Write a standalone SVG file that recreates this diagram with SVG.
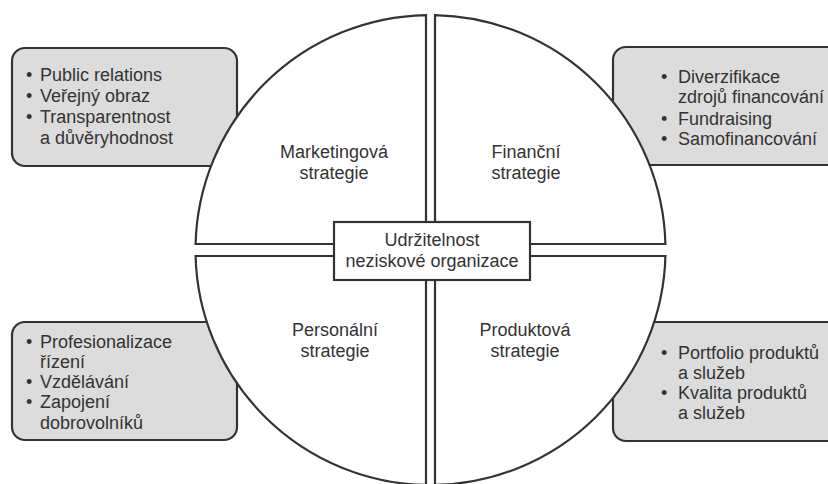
<svg xmlns="http://www.w3.org/2000/svg" width="828" height="484" viewBox="0 0 828 484">
<style>
.box{fill:#dcdcdc;stroke:#333;stroke-width:2.2}
.q{fill:#fff;stroke:#333;stroke-width:2.2}
.t{font-family:"Liberation Sans",Arial,sans-serif;font-size:18px;fill:#333}
.c{text-anchor:middle}
</style>
<rect width="828" height="484" fill="#fff"/>
<g id="box-marketing">
<rect class="box" x="12" y="48" width="225" height="118" rx="13"/>
<text class="t"><tspan x="26" y="81">•</tspan><tspan x="40" y="81">Public relations</tspan><tspan x="26" y="102">•</tspan><tspan x="40" y="102">Veřejný obraz</tspan><tspan x="26" y="123">•</tspan><tspan x="40" y="123">Transparentnost</tspan><tspan x="40" y="144">a důvěryhodnost</tspan></text>
</g>
<g id="box-financni">
<rect class="box" x="613" y="47" width="232" height="118" rx="13"/>
<text class="t"><tspan x="661" y="83">•</tspan><tspan x="678" y="83">Diverzifikace</tspan><tspan x="678" y="103">zdrojů financování</tspan><tspan x="661" y="125">•</tspan><tspan x="678" y="125">Fundraising</tspan><tspan x="661" y="145">•</tspan><tspan x="678" y="145">Samofinancování</tspan></text>
</g>
<g id="box-personalni">
<rect class="box" x="12" y="322" width="225" height="118" rx="13"/>
<text class="t"><tspan x="26" y="348">•</tspan><tspan x="40" y="348">Profesionalizace</tspan><tspan x="40" y="368">řízení</tspan><tspan x="26" y="388">•</tspan><tspan x="40" y="388">Vzdělávání</tspan><tspan x="26" y="408">•</tspan><tspan x="40" y="408">Zapojení</tspan><tspan x="40" y="429">dobrovolníků</tspan></text>
</g>
<g id="box-produktova">
<rect class="box" x="613" y="322" width="232" height="119" rx="13"/>
<text class="t"><tspan x="661" y="359">•</tspan><tspan x="678" y="359">Portfolio produktů</tspan><tspan x="678" y="379">a služeb</tspan><tspan x="661" y="399">•</tspan><tspan x="678" y="399">Kvalita produktů</tspan><tspan x="678" y="419">a služeb</tspan></text>
</g>
<g id="q-marketing">
<path class="q" d="M426,244 L426,15.04 A235,235 0 0 0 195.58,244 Z"/>
<text class="t c" x="334" y="158">Marketingová</text>
<text class="t c" x="334" y="179">strategie</text>
</g>
<g id="q-financni">
<path class="q" d="M435,244 L435,15.04 A235,235 0 0 1 665.42,244 Z"/>
<text class="t c" x="526" y="158">Finanční</text>
<text class="t c" x="526" y="179">strategie</text>
</g>
<g id="q-personalni">
<path class="q" d="M426,256 L426,484.96 A235,235 0 0 1 195.58,256 Z"/>
<text class="t c" x="335" y="336">Personální</text>
<text class="t c" x="335" y="357">strategie</text>
</g>
<g id="q-produktova">
<path class="q" d="M435,256 L435,484.96 A235,235 0 0 0 665.42,256 Z"/>
<text class="t c" x="525" y="336">Produktová</text>
<text class="t c" x="525" y="357">strategie</text>
</g>
<g id="center">
<rect class="q" x="334" y="222" width="196" height="58"/>
<text class="t c" x="432" y="246">Udržitelnost</text>
<text class="t c" x="432" y="267">neziskové organizace</text>
</g>
<g id="connectors"/>
</svg>
